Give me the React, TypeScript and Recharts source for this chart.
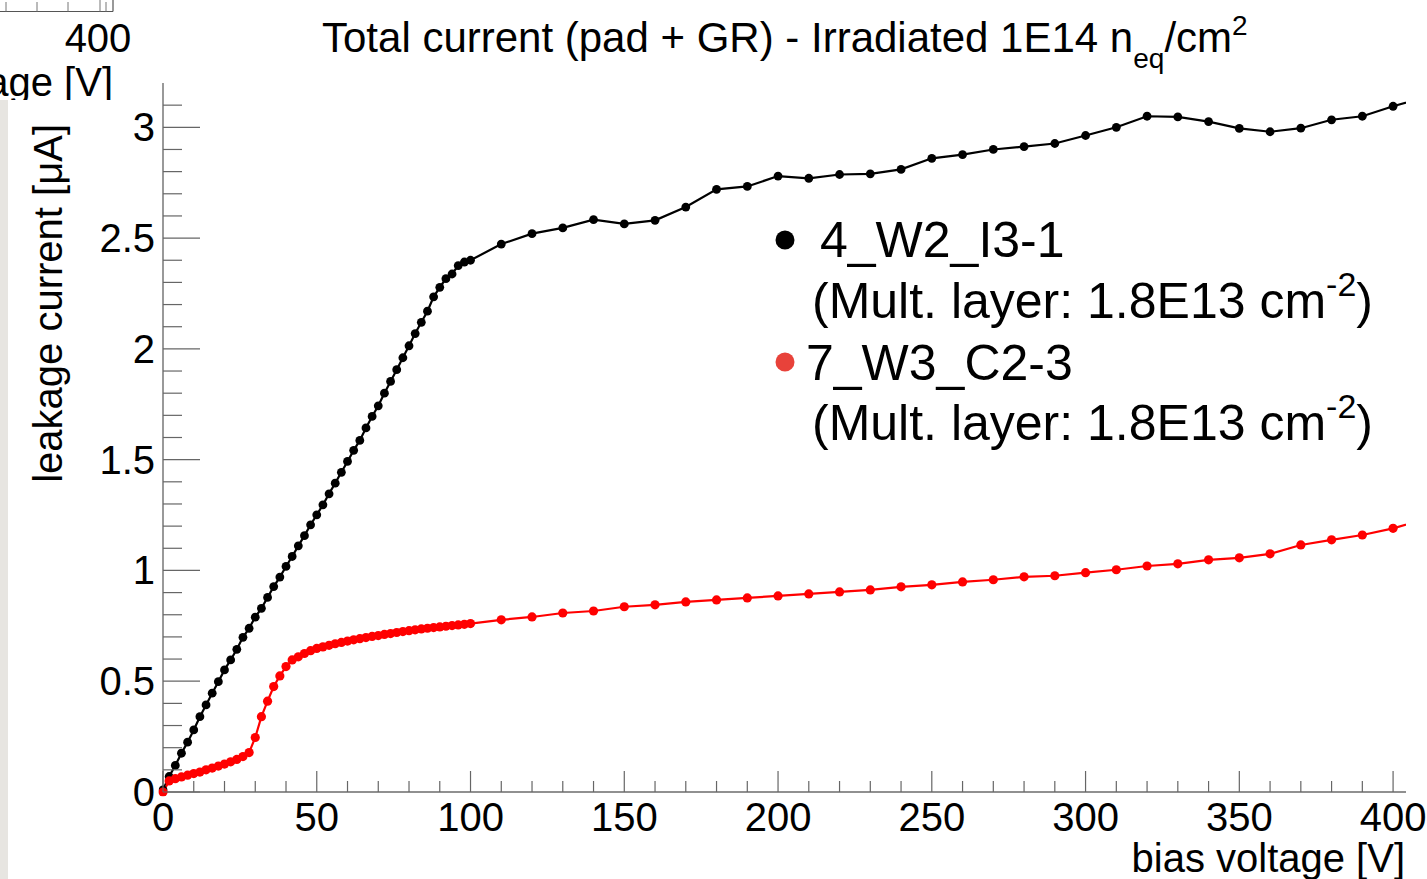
import React from 'react';
import { LineChart, Line, XAxis, YAxis } from 'recharts';

// ---- data ----
const voltages = [
  0, 2, 4, 6, 8, 10, 12, 14, 16, 18, 20, 22, 24, 26, 28, 30, 32, 34, 36, 38,
  40, 42, 44, 46, 48, 50, 52, 54, 56, 58, 60, 62, 64, 66, 68, 70, 72, 74, 76, 78,
  80, 82, 84, 86, 88, 90, 92, 94, 96, 98, 100,
  110, 120, 130, 140, 150, 160, 170, 180, 190, 200,
  210, 220, 230, 240, 250, 260, 270, 280, 290, 300,
  310, 320, 330, 340, 350, 360, 370, 380, 390, 400, 410,
];

const current_4_W2_I3_1 = [
  0.01, 0.07, 0.12, 0.175, 0.225, 0.28, 0.34, 0.393, 0.446, 0.498,
  0.551, 0.596, 0.644, 0.698, 0.739, 0.789, 0.829, 0.878, 0.927, 0.97,
  1.018, 1.063, 1.111, 1.157, 1.206, 1.251, 1.296, 1.346, 1.394, 1.443,
  1.492, 1.542, 1.587, 1.643, 1.695, 1.743, 1.8, 1.853, 1.906, 1.96,
  2.014, 2.069, 2.12, 2.17, 2.235, 2.278, 2.317, 2.338, 2.376, 2.392, 2.4,
  2.473, 2.52, 2.546, 2.583, 2.564, 2.58, 2.64, 2.72, 2.733, 2.78,
  2.77, 2.787, 2.79, 2.81, 2.86, 2.877, 2.9, 2.913, 2.927, 2.963,
  3.0, 3.05, 3.047, 3.026, 2.995, 2.98, 2.996, 3.034, 3.05, 3.095, 3.135,
];

const current_7_W3_C2_3 = [
  0.0, 0.05, 0.06, 0.068, 0.076, 0.083, 0.09, 0.1, 0.108, 0.117,
  0.126, 0.136, 0.147, 0.16, 0.178, 0.246, 0.34, 0.41, 0.476, 0.524,
  0.566, 0.596, 0.61, 0.625, 0.638, 0.648, 0.655, 0.662, 0.669, 0.675,
  0.681, 0.687, 0.692, 0.697, 0.702, 0.706, 0.711, 0.715, 0.72, 0.724,
  0.728, 0.732, 0.736, 0.739, 0.742, 0.745, 0.748, 0.751, 0.754, 0.757, 0.76,
  0.777, 0.79, 0.808, 0.817, 0.836, 0.845, 0.858, 0.867, 0.876, 0.885,
  0.894, 0.903, 0.912, 0.926, 0.935, 0.948, 0.958, 0.971, 0.976, 0.99,
  1.003, 1.02, 1.03, 1.048, 1.057, 1.075, 1.115, 1.138, 1.16, 1.19, 1.23,
];

const xTicks = [
  0, 10, 20, 30, 40, 50, 60, 70, 80, 90, 100, 110, 120, 130, 140, 150, 160, 170, 180, 190, 200,
  210, 220, 230, 240, 250, 260, 270, 280, 290, 300, 310, 320, 330, 340, 350, 360, 370, 380, 390, 400,
];
const xMajorLabels = [0, 50, 100, 150, 200, 250, 300, 350, 400];

const yTicks = [
  0, 0.1, 0.2, 0.3, 0.4, 0.5, 0.6, 0.7, 0.8, 0.9, 1, 1.1, 1.2, 1.3, 1.4, 1.5, 1.6, 1.7, 1.8, 1.9,
  2, 2.1, 2.2, 2.3, 2.4, 2.5, 2.6, 2.7, 2.8, 2.9, 3, 3.1,
];
const yMajorLabels = [0, 0.5, 1, 1.5, 2, 2.5, 3];

const data = voltages.map((v, i) => ({ v, a: current_4_W2_I3_1[i], b: current_7_W3_C2_3[i] }));

// ---- style ----
const FONT = '"Liberation Sans", Arial, Helvetica, sans-serif';
const TICK = '#666';
const W = 1427;
const H = 879;
const X_MAX = 404.2;
const Y_MAX = 3.2;

const XTickBottom = (props: any) => {
  const { x, y, payload } = props;
  const v = payload.value;
  const major = xMajorLabels.includes(v);
  return (
    <g>
      <line x1={x} x2={x} y1={y} y2={y - (major ? 21 : 11)} stroke={TICK} strokeWidth={1.2} />
      {major && (
        <text x={x} y={y + 39} textAnchor="middle" fontSize={40} fontFamily={FONT} fill="#000">
          {v}
        </text>
      )}
    </g>
  );
};

const XTickTop = (props: any) => {
  const { x, y, payload } = props;
  const major = xMajorLabels.includes(payload.value);
  return <line x1={x} x2={x} y1={y} y2={y + (major ? 21 : 11)} stroke={TICK} strokeWidth={1.2} />;
};

const YTickLeft = (props: any) => {
  const { x, y, payload } = props;
  const v = payload.value;
  const major = yMajorLabels.includes(v);
  return (
    <g>
      <line x1={x} x2={x + (major ? 37 : 19)} y1={y} y2={y} stroke={TICK} strokeWidth={1.2} />
      {major && (
        <text x={x - 8} y={y + 14} textAnchor="end" fontSize={40} fontFamily={FONT} fill="#000">
          {v}
        </text>
      )}
    </g>
  );
};

const YTickRight = (props: any) => {
  const { x, y, payload } = props;
  const major = yMajorLabels.includes(payload.value);
  return <line x1={x} x2={x - (major ? 37 : 19)} y1={y} y2={y} stroke={TICK} strokeWidth={1.2} />;
};

export default function App() {
  return (
    <div style={{ position: 'absolute', left: 0, top: 0, width: W, height: H, background: '#fff', overflow: 'hidden' }}>
      <LineChart
        width={W}
        height={H}
        data={data}
        margin={{ top: 83, right: 21, bottom: 27, left: 83 }}
      >
        <XAxis
          xAxisId="main"
          type="number"
          dataKey="v"
          domain={[0, X_MAX]}
          allowDataOverflow
          ticks={xTicks}
          interval={0}
          tickSize={0}
          tickMargin={0}
          tickLine={false}
          tick={<XTickBottom />}
          axisLine={{ stroke: '#222', strokeWidth: 1.2 }}
          height={60}
          orientation="bottom"
        />
        <XAxis
          xAxisId="top"
          type="number"
          dataKey="v"
          domain={[0, X_MAX]}
          allowDataOverflow
          ticks={xTicks}
          interval={0}
          tickSize={0}
          tickMargin={0}
          tickLine={false}
          tick={<XTickTop />}
          axisLine={{ stroke: '#222', strokeWidth: 1.2 }}
          height={0}
          orientation="top"
        />
        <YAxis
          yAxisId="main"
          type="number"
          domain={[0, Y_MAX]}
          allowDataOverflow
          ticks={yTicks}
          interval={0}
          tickSize={0}
          tickMargin={0}
          tickLine={false}
          tick={<YTickLeft />}
          axisLine={{ stroke: '#555', strokeWidth: 1.2 }}
          width={80}
          orientation="left"
        />
        <YAxis
          yAxisId="right"
          type="number"
          domain={[0, Y_MAX]}
          allowDataOverflow
          ticks={yTicks}
          interval={0}
          tickSize={0}
          tickMargin={0}
          tickLine={false}
          tick={<YTickRight />}
          axisLine={{ stroke: '#555', strokeWidth: 1.2 }}
          width={0}
          orientation="right"
        />
        <Line
          xAxisId="main"
          yAxisId="main"
          type="linear"
          dataKey="a"
          stroke="#000"
          strokeWidth={2.2}
          dot={{ r: 4.4, fill: '#000', stroke: '#000', strokeWidth: 0, clipDot: false }}
          activeDot={false}
          isAnimationActive={false}
        />
        <Line
          xAxisId="main"
          yAxisId="main"
          type="linear"
          dataKey="b"
          stroke="#ff0000"
          strokeWidth={2.2}
          dot={{ r: 4.6, fill: '#ff0000', stroke: '#ff0000', strokeWidth: 0, clipDot: false }}
          activeDot={false}
          isAnimationActive={false}
        />
      </LineChart>

      <svg
        width={W}
        height={H}
        style={{ position: 'absolute', left: 0, top: 0, pointerEvents: 'none' }}
        fontFamily={FONT}
      >
        <defs>
          <clipPath id="cutTop">
            <rect x={0} y={0} width={200} height={100} />
          </clipPath>
        </defs>
        {/* remnants of the neighbouring plot */}
        <g clipPath="url(#cutTop)">
          <line x1={0} x2={113} y1={11.5} y2={11.5} stroke="#555" strokeWidth={1.2} />
          <line x1={113} x2={113} y1={0} y2={11.5} stroke="#555" strokeWidth={1.2} />
          <line x1={6} x2={6} y1={2} y2={11.5} stroke="#777" strokeWidth={1} />
          <line x1={37} x2={37} y1={2} y2={11.5} stroke="#777" strokeWidth={1} />
          <line x1={68} x2={68} y1={2} y2={11.5} stroke="#777" strokeWidth={1} />
          <line x1={100} x2={100} y1={0} y2={11.5} stroke="#777" strokeWidth={1} />
          <line x1={106} x2={106} y1={2} y2={11.5} stroke="#777" strokeWidth={1} />
          <text x={98} y={52} textAnchor="middle" fontSize={40} fill="#000">400</text>
          <text x={113} y={96} textAnchor="end" fontSize={40} fill="#000">ltage [V]</text>
        </g>
        <rect x={0} y={100} width={8} height={779} fill="#e7e5e1" />

        {/* title */}
        <text x={322} y={52} fontSize={42} fill="#000">
          Total current (pad + GR) - Irradiated 1E14 n
          <tspan fontSize={28} dy={16}>eq</tspan>
          <tspan fontSize={42} dy={-16}>/cm</tspan>
          <tspan fontSize={28} dy={-17}>2</tspan>
        </text>

        {/* axis titles */}
        <text x={62} y={124} transform="rotate(-90 62 124)" textAnchor="end" fontSize={40} fill="#000">
          leakage current [μA]
        </text>
        <text x={1405} y={872} textAnchor="end" fontSize={40} fill="#000">
          bias voltage [V]
        </text>

        {/* legend */}
        <circle cx={785} cy={240} r={9.5} fill="#000" />
        <text x={820} y={257} fontSize={50} fill="#000">4_W2_I3-1</text>
        <text x={812} y={318} fontSize={50} fill="#000">
          (Mult. layer: 1.8E13 cm
          <tspan fontSize={34} dy={-22}>-2</tspan>
          <tspan fontSize={50} dy={22}>)</tspan>
        </text>
        <circle cx={785} cy={362} r={9.5} fill="#e8423a" />
        <text x={806} y={380} fontSize={50} fill="#000">7_W3_C2-3</text>
        <text x={812} y={440} fontSize={50} fill="#000">
          (Mult. layer: 1.8E13 cm
          <tspan fontSize={34} dy={-22}>-2</tspan>
          <tspan fontSize={50} dy={22}>)</tspan>
        </text>
      </svg>
    </div>
  );
}
